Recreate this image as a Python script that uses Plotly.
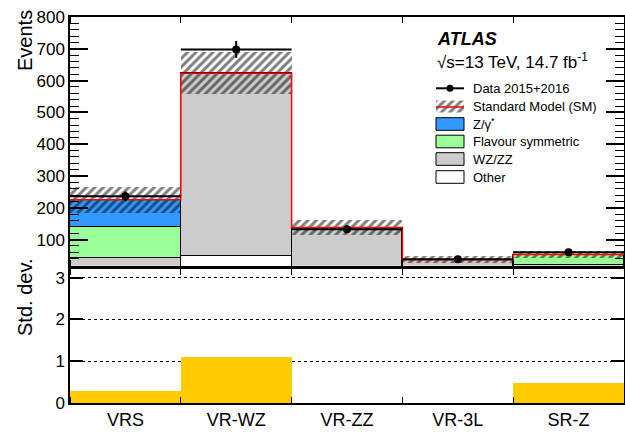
import plotly.graph_objects as go
import numpy as np

regions = ["VRS", "VR-WZ", "VR-ZZ", "VR-3L", "SR-Z"]
other = [10, 49, 5, 15, 6]
wzzz = [32, 574, 133, 22, 13]
flavsym = [99, 0, 0, 0, 32]
zgamma = [84, 0, 0, 0, 2]
sm_total = [225, 623, 138, 37, 53]
sm_err = [42, 66, 25, 10, 10]
data = [236, 698, 133, 38, 60]
signif = [0.28, 1.1, 0.0, 0.0, 0.47]

centers = [i + 0.5 for i in range(len(regions))]
edges = list(range(len(regions) + 1))
data_err = [float(np.sqrt(v)) for v in data]

FONT = "Liberation Sans, Arial, sans-serif"
W, H = 625, 432
ML, MR, MT, MB = 70, 1, 17, 29
plot_w = W - ML - MR
plot_h = H - MT - MB


def px(x):
    return (x - ML) / plot_w


def py(y):
    return (H - MB - y) / plot_h


fig = go.Figure()

stack = [("Other", other, "white"), ("WZ/ZZ", wzzz, "#cccccc"),
         ("Flavour symmetric", flavsym, "#99ff99"), ("Z/γ*", zgamma, "#3399ff")]
for name, vals, col in stack:
    fig.add_trace(go.Bar(x=centers, y=vals, width=1, name=name,
                         marker=dict(color=col, line=dict(color="black", width=1)),
                         xaxis="x", yaxis="y", showlegend=False))

HATCH = dict(shape="/", fgcolor="black", bgcolor="rgba(0,0,0,0)", size=6, solidity=0.5, fillmode="overlay")

# SM uncertainty hatch
fig.add_trace(go.Bar(x=centers, y=[2 * e for e in sm_err],
                     base=[t - e for t, e in zip(sm_total, sm_err)], width=1,
                     marker=dict(color="rgba(0,0,0,0)", line=dict(width=0), pattern=HATCH),
                     xaxis="x", yaxis="y", showlegend=False))

# SM total red step line
fig.add_trace(go.Scatter(x=edges, y=sm_total + [sm_total[-1]], mode="lines",
                         line=dict(color="red", width=1.5, shape="hv"),
                         xaxis="x", yaxis="y", showlegend=False))

# Data
fig.add_trace(go.Scatter(x=centers, y=data, mode="markers",
                         marker=dict(color="black", size=8),
                         error_y=dict(type="data", array=data_err, width=0, thickness=2, color="black"),
                         error_x=dict(type="constant", value=0.5, width=0, thickness=2, color="black"),
                         xaxis="x", yaxis="y", showlegend=False))

# Significance
fig.add_trace(go.Bar(x=centers, y=signif, width=1, marker=dict(color="#ffcc00", line=dict(width=0)),
                     xaxis="x2", yaxis="y2", showlegend=False))

# ---- legend hatch symbol on an overlay pixel axis ----
LX0, LX1 = 436, 464
fig.add_trace(go.Scatter(x=[LX0, LX1, LX1, LX0, LX0], y=[100.5, 100.5, 112.5, 112.5, 100.5], mode="lines",
                         fill="toself", fillcolor="rgba(0,0,0,0)", line=dict(width=0),
                         fillpattern=HATCH,
                         xaxis="x3", yaxis="y3", showlegend=False, hoverinfo="skip"))

shapes = []
annotations = []
shapes.append(dict(type="line", xref="paper", yref="paper", x0=px(LX0), x1=px(LX1), y0=py(88.3), y1=py(88.3),
                   line=dict(color="black", width=2)))
shapes.append(dict(type="circle", xref="paper", yref="paper", x0=px(446.5), x1=px(453.5),
                   y0=py(91.8), y1=py(84.8), fillcolor="black", line=dict(color="black", width=0)))
shapes.append(dict(type="line", xref="paper", yref="paper", x0=px(LX0), x1=px(LX1), y0=py(107), y1=py(107),
                   line=dict(color="red", width=1.5)))

rows = [("Data 2015+2016", 88.3), ("Standard Model (SM)", 106.3), ("Z/γ<sup>*</sup>", 124),
        ("Flavour symmetric", 141.5), ("WZ/ZZ", 159), ("Other", 177)]
box_cols = {"Z/γ<sup>*</sup>": "#3399ff", "Flavour symmetric": "#99ff99", "WZ/ZZ": "#cccccc", "Other": "white"}
for txt, yc in rows:
    annotations.append(dict(x=px(471), y=py(yc), xref="paper", yref="paper", text=txt, showarrow=False,
                            xanchor="left", yanchor="middle", font=dict(family=FONT, size=13, color="black")))
    if txt in box_cols:
        shapes.append(dict(type="rect", xref="paper", yref="paper", x0=px(LX0), x1=px(LX1),
                           y0=py(yc + 6.3), y1=py(yc - 6.3),
                           fillcolor=box_cols[txt], line=dict(color="black", width=1)))

annotations.append(dict(x=px(435), y=py(39), xref="paper", yref="paper", text="<b><i>ATLAS</i></b>",
                        showarrow=False, xanchor="left", yanchor="middle",
                        font=dict(family=FONT, size=18, color="black")))
annotations.append(dict(x=px(435), y=py(61), xref="paper", yref="paper", text="√s=13 TeV, 14.7 fb<sup>-1</sup>",
                        showarrow=False, xanchor="left", yanchor="middle",
                        font=dict(family=FONT, size=17, color="black")))
annotations.append(dict(x=px(25), y=py(41), xref="paper", yref="paper", text="Events", showarrow=False,
                        textangle=-90, xanchor="center", yanchor="middle",
                        font=dict(family=FONT, size=20, color="black")))
annotations.append(dict(x=px(25), y=py(298), xref="paper", yref="paper", text="Std. dev.", showarrow=False,
                        textangle=-90, xanchor="center", yanchor="middle",
                        font=dict(family=FONT, size=20, color="black")))

up_bottom = py(265.7)
lo_top = py(269.3)

axis_common = dict(showline=True, linecolor="black", linewidth=1.5, mirror="allticks", automargin=False,
                   tickfont=dict(family=FONT, size=17, color="black"), zeroline=False)

fig.update_layout(
    width=W, height=H, margin=dict(l=ML, r=MR, t=MT, b=MB, autoexpand=False),
    paper_bgcolor="white", plot_bgcolor="rgba(0,0,0,0)",
    barmode="stack", bargap=0, showlegend=False,
    xaxis=dict(domain=[0, 1], range=[0, 5], anchor="y", showticklabels=False,
               tickvals=centers, ticks="", showgrid=False,
               minor=dict(tickvals=edges, ticks="inside", ticklen=6, tickcolor="black", tickwidth=1, showgrid=False),
               **axis_common),
    yaxis=dict(domain=[up_bottom, 1], range=[18, 800], anchor="x",
               tickvals=[100, 200, 300, 400, 500, 600, 700, 800], ticks="inside", ticklen=18,
               tickcolor="black", tickwidth=1.5, showgrid=False,
               minor=dict(dtick=20, tick0=0, ticks="inside", ticklen=9, tickcolor="black", tickwidth=1, showgrid=False),
               **axis_common),
    xaxis2=dict(domain=[0, 1], range=[0, 5], anchor="y2", tickvals=centers, ticktext=regions,
                ticks="", showgrid=False,
                minor=dict(tickvals=edges, ticks="inside", ticklen=6, tickcolor="black", tickwidth=1, showgrid=False),
                **axis_common),
    yaxis2=dict(domain=[0, lo_top], range=[0, 3.2], anchor="x2", tickvals=[0, 1, 2, 3],
                ticks="inside", ticklen=13, tickcolor="black", tickwidth=1.5,
                showgrid=True, gridcolor="black", griddash="dot", gridwidth=1,
                **axis_common),
    xaxis3=dict(domain=[0, 1], range=[ML, W - MR], anchor="y3", visible=False, fixedrange=True),
    yaxis3=dict(domain=[0, 1], range=[H - MB, MT], anchor="x3", visible=False, fixedrange=True),
    shapes=shapes, annotations=annotations,
)
fig.update_layout(xaxis2_tickfont_size=18)

fig.write_html("out.html", config={"displayModeBar": False},
               post_script="document.body.style.margin='0';document.body.style.padding='0';")
